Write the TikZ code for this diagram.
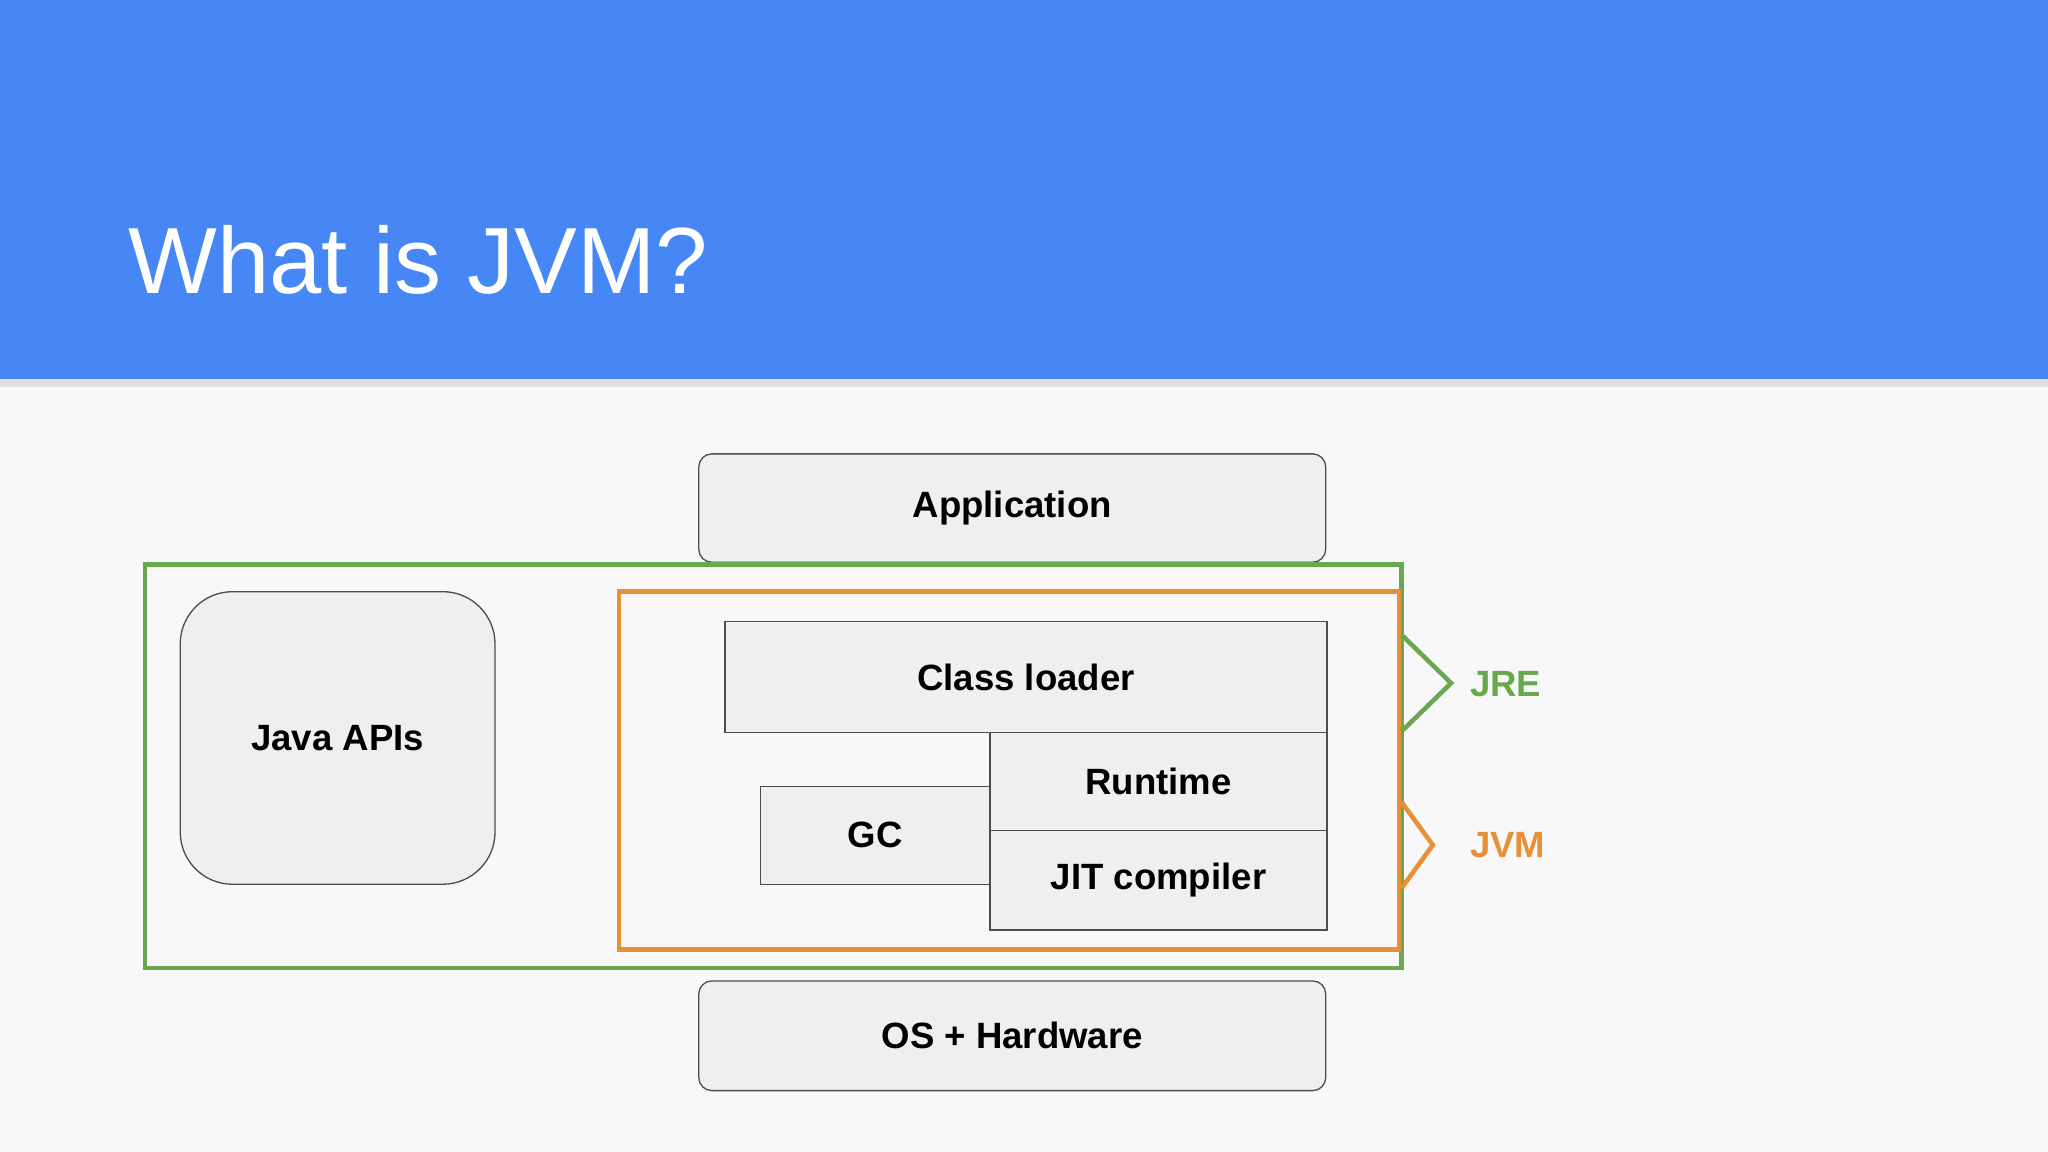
\documentclass[tikz,border=0pt]{standalone}
\usepackage{fontspec}
\setmainfont{Liberation Sans}
\begin{document}
\begin{tikzpicture}[x=1pt,y=-1pt,
  box/.style={draw=black!70,fill=boxfill,line width=1pt},
  lbl/.style={font=\fontsize{28}{30}\selectfont\bfseries},
  side/.style={font=\fontsize{28}{30}\selectfont\bfseries}]
\definecolor{hdr}{HTML}{4786F5}
\definecolor{bg}{HTML}{F8F8FA}
\definecolor{boxfill}{HTML}{EFEFF0}
\definecolor{grn}{HTML}{6AA84F}
\definecolor{org}{HTML}{E69138}
\useasboundingbox (0,0) rectangle (1568,882);
\fill[bg] (0,0) rectangle (1568,882);
\fill[black!12] (0,290) rectangle (1568,296);
\fill[hdr] (0,0) rectangle (1568,290);
\node[anchor=base west,text=white,font=\fontsize{72}{76}\selectfont,inner sep=0] (title) at (98,225) {What is JVM?};
\node[box,rounded corners=10pt,minimum width=480,minimum height=83,lbl] (app) at (775,389) {Application};
\draw[grn,line width=3.5pt,fill=bg] (111,432) rectangle (1073,741);
\node[box,rounded corners=40pt,minimum width=241,minimum height=224,lbl] (apis) at (258.5,565) {Java APIs};
\draw[org,line width=3.5pt] (474,453) rectangle (1071,727);
\node[box,minimum width=461,minimum height=85,lbl] (cl) at (785.5,518.5) {Class loader};
\node[box,minimum width=176,minimum height=75,lbl] (gc) at (670,639.5) {GC};
\node[box,minimum width=258,minimum height=75,lbl] (rt) at (887,598.5) {Runtime};
\node[box,minimum width=258,minimum height=76,lbl] (jit) at (887,674) {JIT compiler};
\node[box,rounded corners=10pt,minimum width=480,minimum height=84,lbl] (os) at (775,793) {OS + Hardware};
\draw[grn,line width=3.5pt] (1073,486) -- (1111,523) -- (1073,560);
\draw[org,line width=3.5pt] (1073,614) -- (1097,647) -- (1073,680);
\node[side,text=grn,anchor=west] (jre) at (1122,524) {JRE};
\node[side,text=org,anchor=west] (jvm) at (1122,647) {JVM};
\end{tikzpicture}
\end{document}
